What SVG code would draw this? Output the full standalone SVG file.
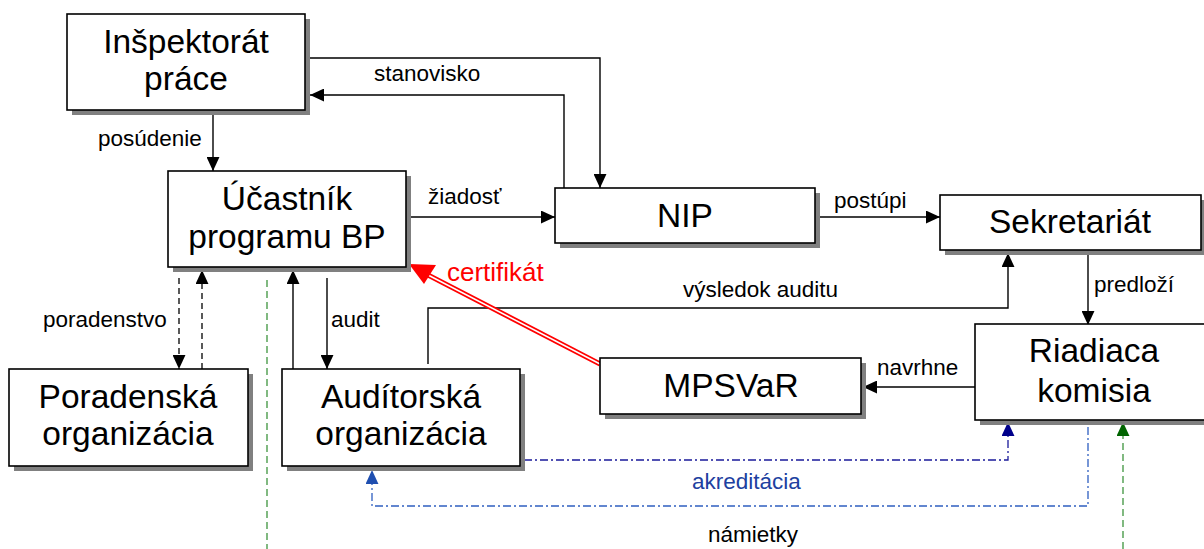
<svg xmlns="http://www.w3.org/2000/svg" width="1204" height="549" viewBox="0 0 1204 549">
<defs>
<style>
.box{fill:#fff;stroke:#000;stroke-width:1.6}
.sh{fill:#808080}
.bt{font-family:"Liberation Sans",Arial,sans-serif;font-size:33.5px;fill:#000;text-anchor:middle}
.lb{font-family:"Liberation Sans",Arial,sans-serif;font-size:22.5px;fill:#000}
.ln{fill:none;stroke:#000;stroke-width:1.4}
.dash{fill:none;stroke:#000;stroke-width:1.3;stroke-dasharray:6 4}
.gdash{fill:none;stroke:#2e8b2e;stroke-width:1.2;stroke-dasharray:7 4}
.bdd{fill:none;stroke-width:1.3;stroke-dasharray:8 3 2 3}
</style>
<marker id="ab" viewBox="0 0 13 12" refX="13" refY="6" markerWidth="14" markerHeight="13" markerUnits="userSpaceOnUse" orient="auto"><path d="M0,0 L13,6 L0,12 Z" fill="#000"/></marker>
<marker id="abn" viewBox="0 0 13 12" refX="13" refY="6" markerWidth="14" markerHeight="13" markerUnits="userSpaceOnUse" orient="auto"><path d="M0,0 L13,6 L0,12 Z" fill="#00008b"/></marker>
<marker id="abl" viewBox="0 0 13 12" refX="13" refY="6" markerWidth="14" markerHeight="13" markerUnits="userSpaceOnUse" orient="auto"><path d="M0,0 L13,6 L0,12 Z" fill="#1f4fb0"/></marker>
<marker id="ag" viewBox="0 0 13 12" refX="13" refY="6" markerWidth="14" markerHeight="13" markerUnits="userSpaceOnUse" orient="auto"><path d="M0,0 L13,6 L0,12 Z" fill="#006400"/></marker>
</defs>
<rect width="1204" height="549" fill="#fff"/>

<g id="connectors">
<path class="ln" d="M305,58 H600 V188" marker-end="url(#ab)"/>
<path class="ln" d="M564,188 V95 H310" marker-end="url(#ab)"/>
<path class="ln" d="M213,115 V171" marker-end="url(#ab)"/>
<path class="ln" d="M406,217 H555" marker-end="url(#ab)"/>
<path class="ln" d="M815,217 H940" marker-end="url(#ab)"/>
<path class="ln" d="M1088,250 V325" marker-end="url(#ab)"/>
<path class="ln" d="M975,387 H863" marker-end="url(#ab)"/>
<path class="ln" d="M428,364 V308 H1008 V253" marker-end="url(#ab)"/>
<path class="dash" d="M179,278 V369" marker-end="url(#ab)"/>
<path class="dash" d="M202,369 V270" marker-end="url(#ab)"/>
<path class="ln" d="M293,369 V270" marker-end="url(#ab)"/>
<path class="ln" d="M327,278 V369" marker-end="url(#ab)"/>
<path class="gdash" d="M267,280 V549"/>
<path class="gdash" d="M1123,549 V422" marker-end="url(#ag)"/>
<path class="bdd" stroke="#1a1a9a" d="M524,460 H1008 V422" marker-end="url(#abn)"/>
<path class="bdd" stroke="#2f5fc0" d="M1088,427 V506 H372 V470" marker-end="url(#abl)"/>
<g id="certifikat">
<line x1="600" y1="364" x2="428" y2="275" stroke="#f00" stroke-width="5"/>
<line x1="602" y1="365" x2="428" y2="275" stroke="#fff" stroke-width="1.6"/>
<path d="M409,264 L436,265 L424,284 Z" fill="#f00"/>
</g>
</g>

<g id="n-inspektorat">
<rect class="sh" x="72" y="19" width="238" height="96"/>
<rect class="box" x="67" y="14" width="238" height="96"/>
<text class="bt" x="186" y="53">Inšpektorát</text>
<text class="bt" x="186" y="90">práce</text>
</g>
<g id="n-ucastnik">
<rect class="sh" x="173" y="176" width="238" height="96"/>
<rect class="box" x="168" y="171" width="238" height="96"/>
<text class="bt" x="287" y="210">Účastník</text>
<text class="bt" x="287" y="248">programu BP</text>
</g>
<g id="n-nip">
<rect class="sh" x="560" y="193" width="260" height="55"/>
<rect class="box" x="555" y="188" width="260" height="55"/>
<text class="bt" x="685" y="227">NIP</text>
</g>
<g id="n-sekretariat">
<rect class="sh" x="945" y="200" width="261" height="55"/>
<rect class="box" x="940" y="195" width="261" height="55"/>
<text class="bt" x="1070" y="233">Sekretariát</text>
</g>
<g id="n-riadiaca">
<rect class="sh" x="980" y="329" width="240" height="96"/>
<rect class="box" x="975" y="324" width="240" height="96"/>
<text class="bt" x="1094" y="362">Riadiaca</text>
<text class="bt" x="1094" y="402">komisia</text>
</g>
<g id="n-mpsvar">
<rect class="sh" x="605" y="363" width="261" height="56"/>
<rect class="box" x="600" y="358" width="261" height="56"/>
<text class="bt" x="731" y="397">MPSVaR</text>
</g>
<g id="n-poradenska">
<rect class="sh" x="14" y="374" width="239" height="97"/>
<rect class="box" x="9" y="369" width="239" height="97"/>
<text class="bt" x="128" y="408">Poradenská</text>
<text class="bt" x="128" y="445">organizácia</text>
</g>
<g id="n-auditorska">
<rect class="sh" x="287" y="374" width="238" height="97"/>
<rect class="box" x="282" y="369" width="238" height="97"/>
<text class="bt" x="401" y="408">Audítorská</text>
<text class="bt" x="401" y="445">organizácia</text>
</g>

<g id="labels">
<text class="lb" x="374" y="81">stanovisko</text>
<text class="lb" x="98" y="146">posúdenie</text>
<text class="lb" x="428" y="204">žiadosť</text>
<text class="lb" x="834" y="208">postúpi</text>
<text class="lb" x="683" y="297">výsledok auditu</text>
<text class="lb" x="1094" y="292">predloží</text>
<text class="lb" x="877" y="375">navrhne</text>
<text class="lb" x="43" y="327">poradenstvo</text>
<text class="lb" x="331" y="327">audit</text>
<text class="lb" x="447" y="281" style="font-size:26px;fill:#f00">certifikát</text>
<text class="lb" x="692" y="489" style="fill:#2040a0">akreditácia</text>
<text class="lb" x="708" y="542">námietky</text>
</g>
</svg>
